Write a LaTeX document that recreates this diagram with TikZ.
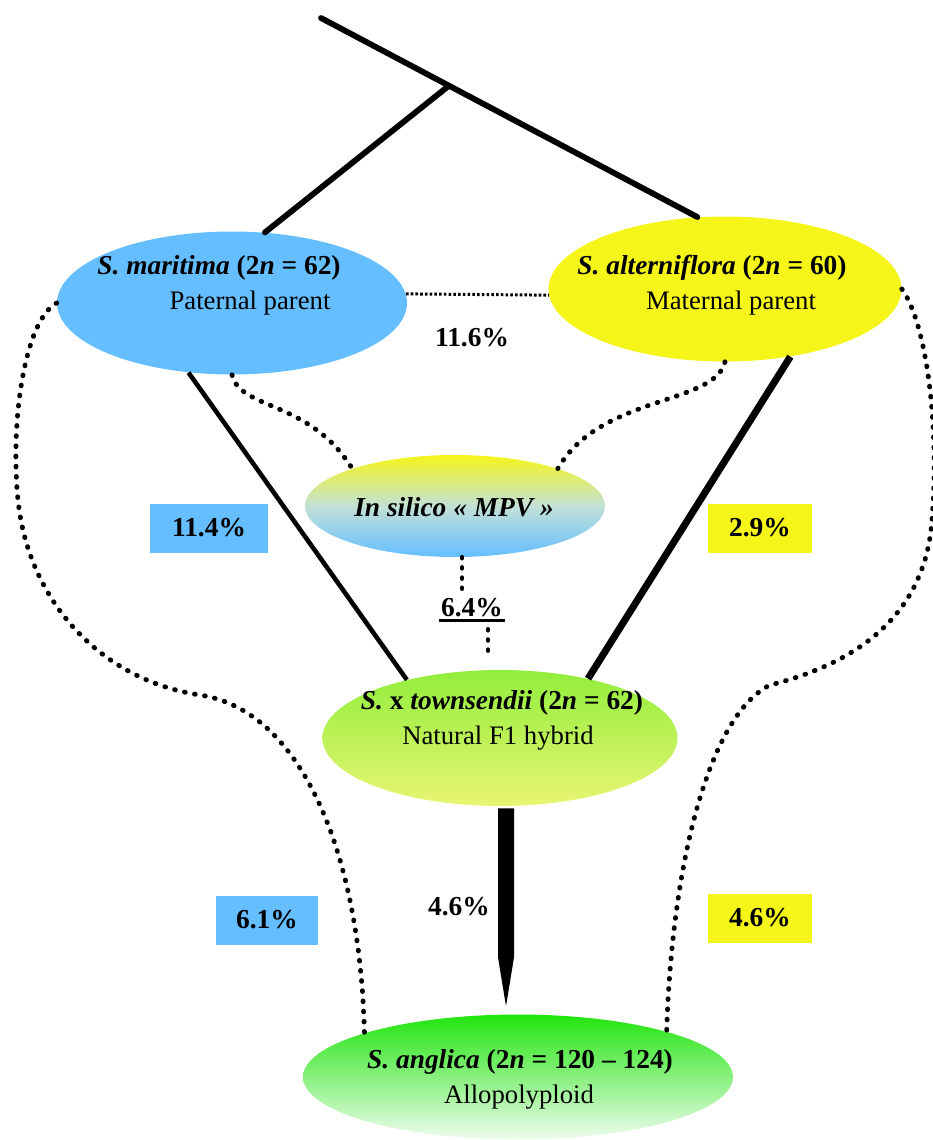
\documentclass[tikz,border=0pt]{standalone}
\usepackage{fontspec}
\setmainfont{Liberation Serif}
\usetikzlibrary{shapes,calc}
\definecolor{cblue}{RGB}{100,190,255}
\definecolor{cyellow}{RGB}{245,245,25}
\definecolor{mpvmid}{RGB}{195,225,215}
\definecolor{lgreen}{RGB}{145,238,60}
\definecolor{lyellow}{RGB}{232,245,115}
\definecolor{dgreen}{RGB}{35,228,15}
\definecolor{pgreen}{RGB}{238,252,238}
\newcommand{\spe}[1]{\textit{#1}}
\tikzset{
  pop/.style={ellipse, inner sep=0pt},
  txt/.style={font=\fontsize{15.2}{18}\selectfont},
  ttl/.style={font=\fontsize{15.6}{18}\selectfont\bfseries},
  pct/.style={font=\fontsize{15.6}{18}\selectfont\bfseries, minimum height=0.98cm, inner sep=0pt},
  tree/.style={line width=3.3pt, line cap=round},
  dots/.style={line width=2.8pt, line cap=round, dash pattern=on 0.4pt off 5.4pt},
  fine/.style={line width=1.7pt, dash pattern=on 1.5pt off 1.2pt},
}
\begin{document}
\begin{tikzpicture}[x=0.02cm, y=-0.02cm]
	\useasboundingbox (0,0) rectangle (933,1140);

	% populations
	\node[pop, fill=cblue, minimum width=7cm, minimum height=2.86cm] (mar) at (232,303) {};
	\node[pop, fill=cyellow, minimum width=7.06cm, minimum height=2.9cm] (alt) at (725,289) {};
	\node[pop, top color=cyellow, bottom color=cblue, middle color=mpvmid, minimum width=6cm, minimum height=2.04cm] (mpv) at (455,506) {};
	\node[pop, top color=lgreen, bottom color=lyellow, minimum width=7.1cm, minimum height=2.72cm] (tw) at (500,738) {};
	\node[pop, top color=dgreen, bottom color=pgreen, minimum width=8.6cm, minimum height=2.5cm] (ang) at (518,1077) {};

	\node[ttl] (mar-n) at (219,268) {\spe{S. maritima} (2\spe{n} = 62)};
	\node[txt] (mar-r) at (250,303) {Paternal parent};
	\node[ttl] (alt-n) at (712,268) {\spe{S. alterniflora} (2\spe{n} = 60)};
	\node[txt] (alt-r) at (731,303) {Maternal parent};
	\node[ttl] (mpv-n) at (454,507) {\spe{In silico « MPV »}};
	\node[ttl] (tw-n) at (502,703) {\spe{S.} x \spe{townsendii} (2\spe{n} = 62)};
	\node[txt] (tw-r) at (498,738) {Natural F1 hybrid};
	\node[ttl] (ang-n) at (520,1062) {\spe{S. anglica} (2\spe{n} = 120 -- 124)};
	\node[txt] (ang-r) at (519,1097) {Allopolyploid};

	% tree
	\coordinate (root) at (321,18);
	\coordinate (fork) at ($(root)!0.34!(alt.111)$);
	\draw[tree] (root) -- (alt.111);
	\draw[tree] (fork) -- (mar.65);
	\draw[line width=2.6pt] (mar.238) -- (tw.148);
	\draw[line width=4pt] (alt.-46) -- (tw.34);

	% distances
	\draw[fine] (mar.3) -- (alt.182);
	\node[ttl] (d-par) at (472,338) {11.6\%};
	\node[pct, fill=cblue, minimum width=2.36cm] (d-mar) at (209,528) {11.4\%};
	\node[pct, fill=cyellow, minimum width=2.1cm] (d-alt) at (760,528) {2.9\%};
	\node[pct, fill=cblue, minimum width=2.06cm] (d-mar2) at (267,920) {6.1\%};
	\node[pct, fill=cyellow, minimum width=2.1cm] (d-alt2) at (760,918) {4.6\%};
	\node[ttl] (d-tw) at (459,907) {4.6\%};
	\node[ttl, inner sep=1pt] (d-mpv) at (472,608) {6.4\%};
	\draw[line width=1.8pt] ($(d-mpv.south west)+(0,1)$) -- ($(d-mpv.south east)+(0,1)$);

	% dotted links
	\draw[dots] (mar.south) .. controls (240,410) and (310,400) .. (mpv.160);
	\draw[dots] (alt.south) .. controls (715,405) and (600,395) .. (mpv.20);
	\draw[dots] ($(mpv.south)+(7,0)$) -- ($(d-mpv.north)+(-10,-6)$);
	\draw[dots] ($(d-mpv.south)+(16,10)$) -- ($(tw.north)+(-12,-14)$);
	\draw[dots] (mar.west) .. controls (25,320) and (10,420) .. (18,500)
		.. controls (28,600) and (100,680) .. (200,695)
		.. controls (300,710) and (360,850) .. (ang.164);
	\draw[dots] (alt.east) .. controls (925,320) and (940,420) .. (932,520)
		.. controls (925,620) and (850,665) .. (770,685)
		.. controls (710,715) and (672,860) .. (ang.17);

	% allopolyploidy
	\fill ($(tw.south)+(-2,2)$) -- ++(16,0) -- ++(0,149) -- ($(ang.north)+(-12,-8)$) -- ($(tw.south)+(-2,151)$) -- cycle;

\end{tikzpicture}
\end{document}
